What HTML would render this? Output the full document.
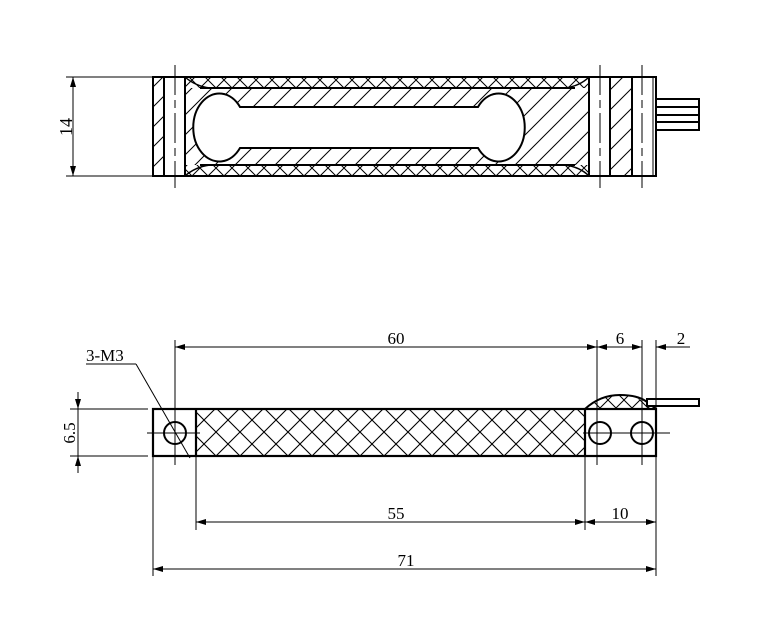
<!DOCTYPE html>
<html><head><meta charset="utf-8"><style>
html,body{margin:0;padding:0;background:#fff}
svg{display:block}
text{font-family:"Liberation Serif","DejaVu Serif",serif;fill:#000}
</style></head><body>
<svg width="777" height="641" viewBox="0 0 777 641" xmlns="http://www.w3.org/2000/svg">
<defs>
<pattern id="diag" width="20" height="20" patternUnits="userSpaceOnUse">
<path d="M-5,25 L25,-5 M-5,5 L5,-5 M15,25 L25,15" stroke="#000" stroke-width="1"/>
</pattern>
<pattern id="xh" width="24" height="24" patternUnits="userSpaceOnUse">
<path d="M0,0 L24,24 M24,0 L0,24" stroke="#000" stroke-width="1.1"/>
</pattern>
<pattern id="xhs" width="16" height="16" patternUnits="userSpaceOnUse">
<path d="M0,0 L16,16 M16,0 L0,16" stroke="#000" stroke-width="1"/>
</pattern>
<marker id="ar" viewBox="0 0 10 6" refX="10" refY="3" markerWidth="10" markerHeight="6" orient="auto-start-reverse" markerUnits="userSpaceOnUse">
<path d="M0,0 L10,3 L0,6 z" fill="#000"/>
</marker>
</defs>

<!-- ===== TOP VIEW ===== -->
<g stroke="#000" fill="none">
<rect x="153" y="77" width="11" height="99" fill="url(#diag)" stroke="none"/>
<rect x="185" y="88" width="403" height="77" fill="url(#diag)" stroke="none"/>
<rect x="185" y="77" width="403" height="11" fill="url(#xhs)" stroke="none"/>
<rect x="185" y="165" width="403" height="11" fill="url(#xhs)" stroke="none"/>
<!-- cutout -->
<path d="M240,107 L478,107 A26,34 0 1 1 478,148 L240,148 A26,34 0 1 1 240,107 Z" fill="#fff" stroke="#000" stroke-width="2"/>
<rect x="610" y="77" width="22" height="99" fill="url(#diag)" stroke="none"/>
<rect x="153" y="77" width="503" height="99" stroke-width="2"/>
<line x1="164" y1="77" x2="164" y2="176" stroke-width="2"/>
<line x1="185" y1="77" x2="185" y2="176" stroke-width="2"/>
<line x1="589" y1="77" x2="589" y2="176" stroke-width="2"/>
<line x1="610" y1="77" x2="610" y2="176" stroke-width="2"/>
<line x1="632" y1="77" x2="632" y2="176" stroke-width="2"/>
<line x1="653" y1="77" x2="653" y2="176" stroke-width="1"/>
<path d="M200,88 L575,88" stroke-width="2"/>
<path d="M200,165 L575,165" stroke-width="2"/>
<path d="M185,77 Q195,86 210,88" stroke-width="1.5"/>
<path d="M185,176 Q195,167 210,165" stroke-width="1.5"/>
<path d="M589,77 Q580,86 565,88" stroke-width="1.5"/>
<path d="M589,176 Q580,167 565,165" stroke-width="1.5"/>
<line x1="175" y1="65" x2="175" y2="188" stroke-width="1" stroke-dasharray="30,5,8,5"/>
<line x1="600" y1="65" x2="600" y2="188" stroke-width="1" stroke-dasharray="30,5,8,5"/>
<line x1="642" y1="65" x2="642" y2="188" stroke-width="1" stroke-dasharray="30,5,8,5"/>
<rect x="656" y="99" width="43" height="31" stroke-width="2"/>
<line x1="656" y1="107" x2="699" y2="107" stroke-width="2"/>
<line x1="656" y1="115" x2="699" y2="115" stroke-width="2"/>
<line x1="656" y1="122" x2="699" y2="122" stroke-width="2"/>
<line x1="66" y1="77" x2="153" y2="77" stroke-width="1"/>
<line x1="66" y1="176" x2="153" y2="176" stroke-width="1"/>
<line x1="73" y1="77" x2="73" y2="176" stroke-width="1" marker-start="url(#ar)" marker-end="url(#ar)"/>
</g>
<text x="0" y="0" font-size="18" transform="translate(72,127) rotate(-90)" text-anchor="middle">14</text>

<!-- ===== BOTTOM VIEW ===== -->
<g stroke="#000" fill="none">
<rect x="196" y="409" width="389" height="47" fill="url(#xh)" stroke="none"/>
<path d="M585,409 Q600,395 620,395 Q638,395 647,405 L656,409 Z" fill="url(#xhs)" stroke="none"/>
<rect x="153" y="409" width="503" height="47" stroke-width="2.2"/>
<line x1="196" y1="409" x2="196" y2="456" stroke-width="2.2"/>
<line x1="585" y1="409" x2="585" y2="456" stroke-width="2.2"/>
<path d="M585,409 Q600,395 620,395 Q638,395 647,402 L656,409" stroke-width="2"/>
<rect x="647" y="399" width="52" height="7" stroke-width="2" fill="#fff"/>
<circle cx="175" cy="433" r="11" stroke-width="2"/>
<circle cx="600" cy="433" r="11" stroke-width="2"/>
<circle cx="642" cy="433" r="11" stroke-width="2"/>
<line x1="147" y1="433" x2="200" y2="433" stroke-width="1"/>
<line x1="583" y1="433" x2="670" y2="433" stroke-width="1"/>
<line x1="175" y1="340" x2="175" y2="465" stroke-width="1"/>
<line x1="597" y1="340" x2="597" y2="465" stroke-width="1"/>
<line x1="642" y1="340" x2="642" y2="465" stroke-width="1"/>
<line x1="656" y1="340" x2="656" y2="576" stroke-width="1"/>
<line x1="196" y1="456" x2="196" y2="530" stroke-width="1"/>
<line x1="585" y1="456" x2="585" y2="530" stroke-width="1"/>
<line x1="153" y1="456" x2="153" y2="576" stroke-width="1"/>
<line x1="175" y1="347" x2="597" y2="347" stroke-width="1" marker-start="url(#ar)" marker-end="url(#ar)"/>
<line x1="597" y1="347" x2="642" y2="347" stroke-width="1" marker-start="url(#ar)" marker-end="url(#ar)"/>
<line x1="656" y1="347" x2="690" y2="347" stroke-width="1" marker-start="url(#ar)"/>
<line x1="196" y1="522" x2="585" y2="522" stroke-width="1" marker-start="url(#ar)" marker-end="url(#ar)"/>
<line x1="585" y1="522" x2="656" y2="522" stroke-width="1" marker-start="url(#ar)" marker-end="url(#ar)"/>
<line x1="153" y1="569" x2="656" y2="569" stroke-width="1" marker-start="url(#ar)" marker-end="url(#ar)"/>
<line x1="70" y1="409" x2="148" y2="409" stroke-width="1"/>
<line x1="70" y1="456" x2="148" y2="456" stroke-width="1"/>
<line x1="78" y1="392" x2="78" y2="409" stroke-width="1" marker-end="url(#ar)"/>
<line x1="78" y1="473" x2="78" y2="456" stroke-width="1" marker-end="url(#ar)"/>
<line x1="78" y1="409" x2="78" y2="456" stroke-width="1"/>
<line x1="86" y1="364" x2="136" y2="364" stroke-width="1"/>
<line x1="136" y1="364" x2="190" y2="458" stroke-width="1"/>
</g>
<text x="396" y="344" font-size="17" text-anchor="middle">60</text>
<text x="620" y="344" font-size="17" text-anchor="middle">6</text>
<text x="681" y="344" font-size="17" text-anchor="middle">2</text>
<text x="396" y="519" font-size="17" text-anchor="middle">55</text>
<text x="620" y="519" font-size="17" text-anchor="middle">10</text>
<text x="406" y="566" font-size="17" text-anchor="middle">71</text>
<text x="86" y="361" font-size="17">3-M3</text>
<text x="0" y="0" font-size="17" transform="translate(75,433) rotate(-90)" text-anchor="middle">6.5</text>
</svg>
</body></html>
